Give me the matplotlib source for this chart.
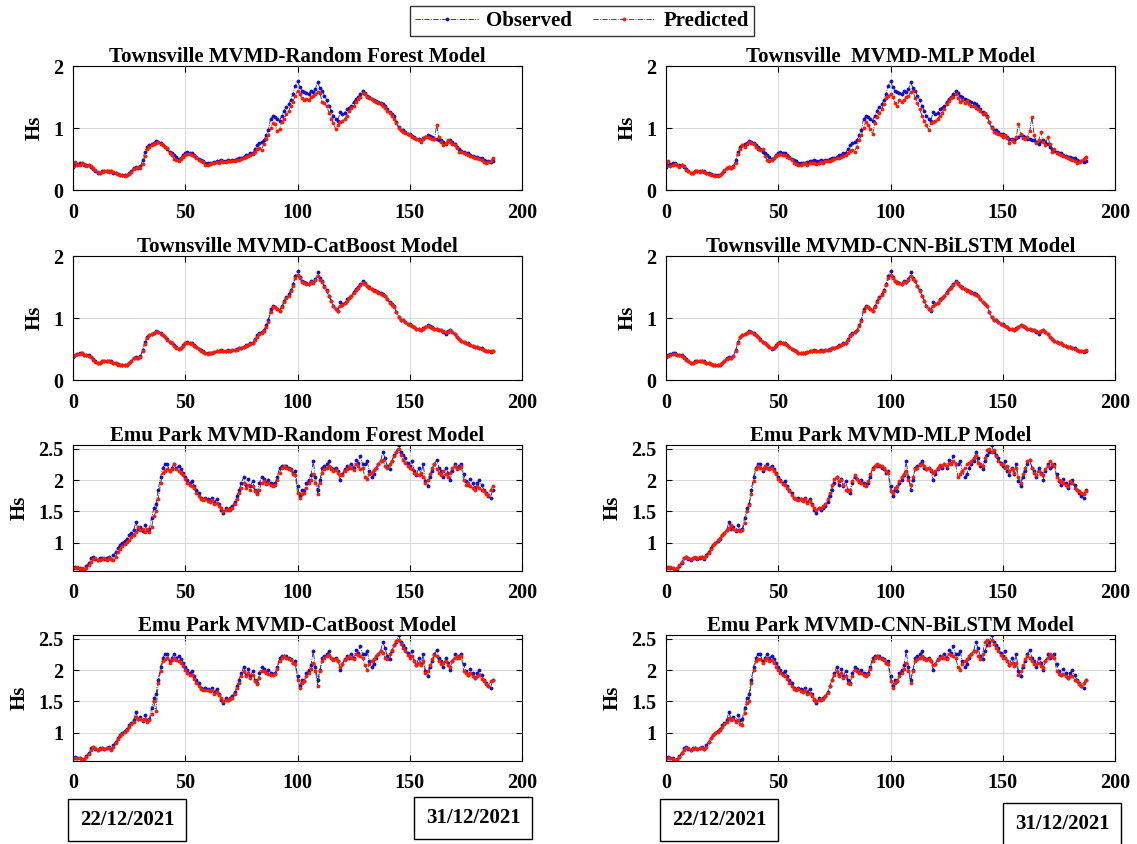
import numpy as np
import matplotlib
matplotlib.use("Agg")
import matplotlib.pyplot as plt
from matplotlib.ticker import FormatStrFormatter

# Significant wave height (Hs), 22/12/2021 - 31/12/2021
tsv_obs = [
    0.37, 0.40, 0.42, 0.44, 0.43, 0.41, 0.40, 0.41, 0.37, 0.34,
    0.30, 0.27, 0.28, 0.30, 0.31, 0.30, 0.31, 0.30, 0.28, 0.27,
    0.26, 0.25, 0.24, 0.24, 0.25, 0.27, 0.31, 0.36, 0.37, 0.36,
    0.38, 0.48, 0.62, 0.70, 0.73, 0.74, 0.76, 0.79, 0.78, 0.76,
    0.72, 0.70, 0.66, 0.62, 0.60, 0.56, 0.53, 0.50, 0.52, 0.56,
    0.60, 0.61, 0.60, 0.59, 0.56, 0.54, 0.50, 0.48, 0.46, 0.44,
    0.43, 0.43, 0.44, 0.45, 0.46, 0.47, 0.48, 0.47, 0.46, 0.48,
    0.47, 0.48, 0.48, 0.50, 0.51, 0.52, 0.54, 0.56, 0.57, 0.59,
    0.60, 0.66, 0.72, 0.76, 0.78, 0.80, 0.88, 0.96, 1.15, 1.20,
    1.18, 1.15, 1.12, 1.20, 1.28, 1.34, 1.38, 1.45, 1.55, 1.68,
    1.76, 1.66, 1.60, 1.58, 1.56, 1.55, 1.60, 1.58, 1.63, 1.74,
    1.64, 1.60, 1.52, 1.45, 1.36, 1.28, 1.20, 1.15, 1.12, 1.26,
    1.22, 1.25, 1.30, 1.33, 1.36, 1.42, 1.47, 1.50, 1.55, 1.60,
    1.56, 1.52, 1.50, 1.47, 1.45, 1.44, 1.42, 1.40, 1.38, 1.36,
    1.30, 1.26, 1.22, 1.20, 1.10, 1.02, 0.96, 0.97, 0.93, 0.91,
    0.90, 0.87, 0.85, 0.83, 0.82, 0.80, 0.84, 0.86, 0.89, 0.87,
    0.85, 0.83, 0.82, 0.81, 0.80, 0.78, 0.75, 0.79, 0.81, 0.78,
    0.74, 0.70, 0.66, 0.63, 0.62, 0.60, 0.59, 0.57, 0.55, 0.54,
    0.53, 0.52, 0.51, 0.49, 0.47, 0.46, 0.45, 0.47,
]

tsv_rf = [
    0.38, 0.45, 0.40, 0.41, 0.43, 0.42, 0.39, 0.40, 0.39, 0.35,
    0.32, 0.29, 0.27, 0.29, 0.30, 0.30, 0.29, 0.30, 0.29, 0.27,
    0.26, 0.25, 0.24, 0.23, 0.24, 0.26, 0.29, 0.34, 0.36, 0.37,
    0.36, 0.42, 0.55, 0.66, 0.70, 0.72, 0.74, 0.76, 0.77, 0.75,
    0.73, 0.70, 0.67, 0.60, 0.56, 0.50, 0.48, 0.47, 0.50, 0.54,
    0.57, 0.58, 0.58, 0.57, 0.55, 0.52, 0.49, 0.47, 0.45, 0.41,
    0.40, 0.42, 0.43, 0.44, 0.45, 0.44, 0.46, 0.45, 0.45, 0.46,
    0.46, 0.47, 0.47, 0.48, 0.49, 0.50, 0.52, 0.54, 0.55, 0.57,
    0.58, 0.62, 0.66, 0.68, 0.65, 0.75, 0.82, 0.88, 1.00, 1.08,
    1.06, 0.95, 0.98, 1.10, 1.15, 1.22, 1.28, 1.35, 1.42, 1.52,
    1.60, 1.55, 1.48, 1.45, 1.47, 1.45, 1.50, 1.52, 1.55, 1.58,
    1.56, 1.42, 1.40, 1.35, 1.25, 1.15, 1.08, 0.98, 1.05, 1.10,
    1.12, 1.15, 1.20, 1.28, 1.32, 1.35, 1.42, 1.46, 1.50, 1.56,
    1.55, 1.50, 1.48, 1.46, 1.44, 1.42, 1.40, 1.38, 1.36, 1.33,
    1.28, 1.24, 1.20, 1.15, 1.08, 1.00, 0.96, 0.94, 0.92, 0.90,
    0.88, 0.86, 0.84, 0.82, 0.80, 0.78, 0.82, 0.85, 0.86, 0.84,
    0.83, 0.82, 1.05, 0.85, 0.78, 0.72, 0.76, 0.80, 0.78, 0.75,
    0.72, 0.68, 0.62, 0.61, 0.60, 0.58, 0.57, 0.55, 0.53, 0.52,
    0.51, 0.50, 0.48, 0.45, 0.44, 0.45, 0.46, 0.52,
]

tsv_cat = [
    0.38, 0.40, 0.42, 0.42, 0.43, 0.41, 0.40, 0.39, 0.37, 0.33,
    0.29, 0.27, 0.28, 0.30, 0.30, 0.30, 0.31, 0.29, 0.28, 0.27,
    0.25, 0.24, 0.24, 0.24, 0.25, 0.27, 0.30, 0.35, 0.36, 0.36,
    0.37, 0.46, 0.58, 0.68, 0.72, 0.74, 0.76, 0.77, 0.77, 0.75,
    0.72, 0.69, 0.65, 0.62, 0.59, 0.55, 0.52, 0.50, 0.52, 0.55,
    0.59, 0.60, 0.59, 0.58, 0.55, 0.53, 0.50, 0.47, 0.45, 0.43,
    0.42, 0.43, 0.44, 0.45, 0.46, 0.46, 0.47, 0.47, 0.46, 0.47,
    0.47, 0.48, 0.48, 0.49, 0.51, 0.52, 0.54, 0.55, 0.57, 0.58,
    0.60, 0.64, 0.70, 0.74, 0.76, 0.79, 0.86, 0.94, 1.10, 1.18,
    1.17, 1.14, 1.12, 1.18, 1.26, 1.32, 1.36, 1.43, 1.52, 1.64,
    1.70, 1.64, 1.58, 1.57, 1.55, 1.55, 1.58, 1.57, 1.61, 1.68,
    1.62, 1.58, 1.50, 1.43, 1.35, 1.27, 1.19, 1.14, 1.12, 1.20,
    1.21, 1.24, 1.28, 1.32, 1.35, 1.40, 1.45, 1.49, 1.53, 1.57,
    1.55, 1.51, 1.49, 1.46, 1.44, 1.43, 1.41, 1.39, 1.37, 1.35,
    1.30, 1.25, 1.21, 1.18, 1.10, 1.02, 0.97, 0.96, 0.93, 0.91,
    0.89, 0.87, 0.85, 0.83, 0.82, 0.81, 0.83, 0.85, 0.87, 0.86,
    0.84, 0.83, 0.82, 0.81, 0.80, 0.79, 0.77, 0.78, 0.80, 0.78,
    0.74, 0.70, 0.66, 0.63, 0.62, 0.60, 0.58, 0.57, 0.55, 0.54,
    0.53, 0.52, 0.50, 0.48, 0.46, 0.46, 0.46, 0.47,
]

tsv_mlp = [
    0.38, 0.46, 0.39, 0.40, 0.42, 0.40, 0.37, 0.41, 0.38, 0.33,
    0.30, 0.28, 0.27, 0.30, 0.31, 0.29, 0.30, 0.29, 0.27, 0.26,
    0.25, 0.24, 0.23, 0.23, 0.25, 0.28, 0.32, 0.36, 0.37, 0.36,
    0.37, 0.44, 0.58, 0.66, 0.72, 0.70, 0.74, 0.78, 0.76, 0.74,
    0.70, 0.66, 0.64, 0.66, 0.55, 0.49, 0.47, 0.49, 0.52, 0.55,
    0.57, 0.58, 0.57, 0.56, 0.54, 0.52, 0.48, 0.44, 0.42, 0.40,
    0.40, 0.42, 0.43, 0.41, 0.44, 0.43, 0.44, 0.42, 0.44, 0.45,
    0.44, 0.46, 0.47, 0.47, 0.48, 0.50, 0.51, 0.52, 0.53, 0.55,
    0.57, 0.60, 0.63, 0.65, 0.62, 0.70, 0.80, 0.88, 1.00, 1.10,
    1.05, 0.98, 0.90, 1.08, 1.18, 1.24, 1.30, 1.38, 1.48, 1.52,
    1.55, 1.50, 1.40, 1.35, 1.45, 1.42, 1.45, 1.50, 1.52, 1.58,
    1.60, 1.48, 1.40, 1.30, 1.20, 1.12, 1.05, 0.97, 1.08, 1.10,
    1.12, 1.15, 1.20, 1.25, 1.30, 1.38, 1.44, 1.48, 1.50, 1.55,
    1.48, 1.42, 1.45, 1.40, 1.43, 1.38, 1.35, 1.36, 1.32, 1.30,
    1.27, 1.22, 1.25, 1.18, 1.10, 1.00, 0.94, 0.92, 0.90, 0.88,
    0.86, 0.88, 0.84, 0.76, 0.80, 0.78, 0.85, 1.06, 0.90, 0.84,
    0.82, 0.86, 0.95, 1.18, 0.88, 0.76, 0.80, 0.94, 0.78, 0.72,
    0.86, 0.75, 0.62, 0.66, 0.60, 0.58, 0.56, 0.55, 0.53, 0.52,
    0.50, 0.49, 0.46, 0.44, 0.45, 0.47, 0.50, 0.54,
]

tsv_cnn = [
    0.37, 0.39, 0.41, 0.42, 0.42, 0.41, 0.40, 0.39, 0.36, 0.33,
    0.30, 0.28, 0.28, 0.29, 0.30, 0.30, 0.30, 0.29, 0.28, 0.27,
    0.26, 0.25, 0.24, 0.24, 0.25, 0.27, 0.30, 0.34, 0.36, 0.36,
    0.38, 0.47, 0.60, 0.69, 0.72, 0.74, 0.76, 0.78, 0.77, 0.75,
    0.72, 0.69, 0.65, 0.62, 0.59, 0.56, 0.53, 0.51, 0.52, 0.55,
    0.59, 0.60, 0.60, 0.58, 0.56, 0.53, 0.50, 0.48, 0.46, 0.44,
    0.43, 0.43, 0.44, 0.45, 0.46, 0.47, 0.47, 0.47, 0.46, 0.47,
    0.47, 0.48, 0.48, 0.49, 0.51, 0.52, 0.54, 0.55, 0.57, 0.58,
    0.60, 0.65, 0.71, 0.75, 0.77, 0.80, 0.87, 0.95, 1.12, 1.18,
    1.17, 1.15, 1.12, 1.18, 1.26, 1.32, 1.37, 1.44, 1.53, 1.65,
    1.70, 1.65, 1.59, 1.57, 1.56, 1.55, 1.58, 1.58, 1.62, 1.68,
    1.63, 1.59, 1.51, 1.44, 1.36, 1.27, 1.19, 1.14, 1.13, 1.20,
    1.22, 1.25, 1.29, 1.33, 1.36, 1.41, 1.46, 1.49, 1.54, 1.58,
    1.55, 1.51, 1.49, 1.46, 1.44, 1.43, 1.41, 1.39, 1.37, 1.35,
    1.30, 1.26, 1.22, 1.19, 1.10, 1.02, 0.97, 0.96, 0.93, 0.91,
    0.89, 0.87, 0.85, 0.83, 0.82, 0.81, 0.83, 0.86, 0.88, 0.87,
    0.85, 0.83, 0.82, 0.81, 0.80, 0.79, 0.77, 0.79, 0.80, 0.78,
    0.74, 0.70, 0.66, 0.63, 0.62, 0.60, 0.59, 0.57, 0.55, 0.54,
    0.53, 0.52, 0.50, 0.48, 0.47, 0.46, 0.46, 0.48,
]

emu_obs = [
    0.60, 0.61, 0.59, 0.60, 0.55, 0.58, 0.63, 0.68, 0.75, 0.78,
    0.74, 0.73, 0.75, 0.76, 0.74, 0.76, 0.77, 0.74, 0.80, 0.86,
    0.92, 0.97, 1.00, 1.03, 1.06, 1.12, 1.15, 1.20, 1.33, 1.22,
    1.25, 1.19, 1.28, 1.20, 1.22, 1.40, 1.55, 1.62, 1.85, 2.05,
    2.20, 2.25, 2.25, 2.15, 2.20, 2.25, 2.20, 2.22, 2.18, 2.12,
    2.05, 2.00, 1.95, 1.98, 1.90, 1.85, 1.80, 1.72, 1.70, 1.72,
    1.70, 1.68, 1.72, 1.65, 1.70, 1.62, 1.52, 1.48, 1.55, 1.52,
    1.55, 1.58, 1.65, 1.75, 1.85, 1.95, 2.05, 1.92, 2.02, 1.90,
    1.98, 1.85, 1.80, 1.95, 2.05, 2.02, 1.97, 2.00, 1.96, 1.93,
    1.95, 2.05, 2.20, 2.22, 2.23, 2.22, 2.20, 2.18, 2.12, 2.15,
    1.90, 1.75, 1.85, 1.82, 1.95, 2.00, 2.08, 2.30, 2.05, 1.85,
    2.00, 2.20, 2.22, 2.25, 2.30, 2.20, 2.18, 2.20, 2.15, 2.00,
    2.10, 2.18, 2.22, 2.20, 2.25, 2.20, 2.32, 2.28, 2.38, 2.25,
    2.25, 2.30, 2.15, 2.05, 2.10, 2.20, 2.25, 2.30, 2.45, 2.35,
    2.22, 2.18, 2.30, 2.40, 2.45, 2.56, 2.45, 2.40, 2.35, 2.28,
    2.22, 2.30, 2.15, 2.08, 2.20, 2.10, 2.25, 1.98, 1.90, 2.05,
    2.15, 2.25, 2.32, 2.20, 2.15, 2.05, 2.20, 2.12, 2.00, 2.15,
    2.25, 2.20, 2.22, 2.25, 2.10, 1.98, 1.92, 2.02, 1.95, 1.88,
    1.95, 2.00, 1.92, 1.85, 1.80, 1.75, 1.72, 1.85,
]

emu_rf = [
    0.60, 0.59, 0.61, 0.58, 0.60, 0.56, 0.60, 0.64, 0.70, 0.74,
    0.75, 0.73, 0.72, 0.74, 0.75, 0.73, 0.75, 0.74, 0.73, 0.78,
    0.85, 0.90, 0.95, 0.98, 1.02, 1.05, 1.10, 1.13, 1.18, 1.25,
    1.20, 1.22, 1.17, 1.22, 1.18, 1.25, 1.42, 1.50, 1.70, 1.95,
    2.12, 2.15, 2.18, 2.14, 2.18, 2.26, 2.18, 2.15, 2.12, 2.08,
    2.02, 1.95, 1.92, 1.90, 1.88, 1.80, 1.75, 1.70, 1.68, 1.70,
    1.66, 1.65, 1.68, 1.62, 1.64, 1.58, 1.55, 1.50, 1.52, 1.54,
    1.52, 1.56, 1.62, 1.70, 1.80, 1.88, 1.95, 1.88, 1.92, 1.85,
    1.90, 1.82, 1.78, 1.85, 1.95, 1.98, 1.94, 1.95, 1.92, 1.90,
    1.92, 2.00, 2.12, 2.20, 2.22, 2.20, 2.18, 2.16, 2.10, 2.08,
    1.80, 1.72, 1.78, 1.80, 1.88, 1.95, 2.00, 2.10, 1.95, 1.78,
    1.95, 2.12, 2.18, 2.20, 2.22, 2.18, 2.15, 2.16, 2.12, 2.08,
    2.08, 2.15, 2.18, 2.22, 2.20, 2.16, 2.25, 2.22, 2.18, 2.20,
    2.05, 2.02, 2.10, 2.12, 2.16, 2.20, 2.25, 2.30, 2.32, 2.22,
    2.20, 2.25, 2.30, 2.38, 2.45, 2.50, 2.40, 2.32, 2.28, 2.22,
    2.20, 2.18, 2.12, 2.10, 2.08, 2.12, 2.05, 1.95, 2.00, 2.10,
    2.20, 2.25, 2.18, 2.12, 2.08, 2.15, 2.10, 2.05, 2.12, 2.20,
    2.22, 2.18, 2.20, 2.22, 2.00, 1.92, 1.95, 1.90, 1.88, 1.85,
    1.90, 1.88, 1.85, 1.82, 1.78, 1.76, 1.85, 1.90,
]

emu_cat = [
    0.60, 0.60, 0.60, 0.59, 0.58, 0.57, 0.61, 0.66, 0.72, 0.77,
    0.75, 0.73, 0.74, 0.75, 0.74, 0.75, 0.76, 0.73, 0.77, 0.84,
    0.90, 0.95, 0.98, 1.02, 1.05, 1.10, 1.14, 1.18, 1.25, 1.22,
    1.22, 1.20, 1.22, 1.18, 1.20, 1.30, 1.50, 1.35, 1.80, 1.98,
    2.15, 2.18, 2.20, 2.12, 2.16, 2.20, 2.16, 2.15, 2.12, 2.06,
    2.00, 1.96, 1.92, 1.92, 1.86, 1.80, 1.75, 1.70, 1.68, 1.68,
    1.68, 1.66, 1.68, 1.62, 1.65, 1.60, 1.55, 1.50, 1.52, 1.53,
    1.54, 1.56, 1.62, 1.72, 1.80, 1.90, 1.98, 1.90, 1.95, 1.88,
    1.92, 1.82, 1.78, 1.88, 1.98, 1.98, 1.95, 1.94, 1.92, 1.92,
    1.94, 2.02, 2.15, 2.20, 2.22, 2.20, 2.18, 2.16, 2.12, 2.10,
    1.85, 1.72, 1.80, 1.82, 1.90, 1.96, 2.02, 2.12, 1.98, 1.75,
    1.98, 2.15, 2.20, 2.22, 2.24, 2.20, 2.16, 2.18, 2.14, 2.05,
    2.10, 2.16, 2.20, 2.22, 2.20, 2.18, 2.26, 2.24, 2.22, 2.20,
    2.08, 2.00, 2.10, 2.14, 2.18, 2.22, 2.26, 2.30, 2.28, 2.20,
    2.18, 2.25, 2.32, 2.40, 2.46, 2.48, 2.42, 2.35, 2.30, 2.24,
    2.20, 2.22, 2.14, 2.08, 2.12, 2.08, 2.15, 1.96, 1.98, 2.08,
    2.18, 2.24, 2.22, 2.14, 2.10, 2.12, 2.15, 2.08, 2.05, 2.15,
    2.20, 2.22, 2.20, 2.22, 1.98, 1.95, 1.92, 1.95, 1.90, 1.88,
    1.90, 1.92, 1.86, 1.82, 1.78, 1.75, 1.82, 1.84,
]

emu_mlp = [
    0.61, 0.60, 0.62, 0.59, 0.57, 0.60, 0.64, 0.70, 0.76, 0.78,
    0.76, 0.74, 0.76, 0.77, 0.75, 0.77, 0.78, 0.76, 0.79, 0.84,
    0.90, 0.96, 1.00, 1.04, 1.08, 1.12, 1.16, 1.20, 1.24, 1.28,
    1.22, 1.20, 1.20, 1.19, 1.20, 1.32, 1.50, 1.60, 1.78, 1.98,
    2.18, 2.22, 2.20, 2.18, 2.22, 2.20, 2.18, 2.20, 2.15, 2.10,
    2.02, 1.98, 1.94, 1.92, 1.88, 1.82, 1.76, 1.72, 1.70, 1.68,
    1.70, 1.66, 1.70, 1.64, 1.66, 1.60, 1.56, 1.52, 1.55, 1.56,
    1.58, 1.62, 1.70, 1.80, 1.92, 2.02, 2.05, 1.98, 2.00, 1.92,
    1.85, 1.82, 1.85, 1.98, 2.08, 2.02, 1.98, 1.96, 1.92, 1.90,
    1.98, 2.10, 2.18, 2.22, 2.25, 2.24, 2.22, 2.20, 2.15, 2.12,
    1.82, 1.80, 1.88, 1.90, 1.98, 2.05, 2.10, 2.15, 2.00, 1.92,
    2.05, 2.18, 2.20, 2.24, 2.25, 2.22, 2.18, 2.20, 2.16, 2.12,
    2.15, 2.20, 2.24, 2.22, 2.26, 2.22, 2.28, 2.26, 2.30, 2.25,
    2.05, 2.10, 2.15, 2.20, 2.25, 2.28, 2.30, 2.35, 2.40, 2.28,
    2.25, 2.22, 2.35, 2.48, 2.50, 2.45, 2.48, 2.38, 2.30, 2.26,
    2.25, 2.20, 2.22, 2.15, 2.18, 2.12, 2.20, 2.05, 1.95, 2.10,
    2.20, 2.30, 2.32, 2.20, 2.12, 2.08, 2.15, 2.10, 2.08, 2.18,
    2.22, 2.30, 2.25, 2.22, 2.05, 2.00, 1.98, 1.95, 1.92, 1.90,
    1.98, 1.95, 1.88, 1.85, 1.82, 1.80, 1.78, 1.82,
]

emu_cnn = [
    0.60, 0.59, 0.60, 0.58, 0.57, 0.57, 0.62, 0.67, 0.73, 0.76,
    0.75, 0.73, 0.74, 0.75, 0.74, 0.75, 0.76, 0.74, 0.78, 0.85,
    0.91, 0.96, 0.99, 1.02, 1.05, 1.10, 1.14, 1.18, 1.24, 1.20,
    1.22, 1.18, 1.20, 1.14, 1.12, 1.32, 1.48, 1.50, 1.80, 2.00,
    2.15, 2.18, 2.18, 2.12, 2.16, 2.20, 2.15, 2.16, 2.12, 2.05,
    2.00, 1.95, 1.92, 1.90, 1.86, 1.80, 1.74, 1.70, 1.68, 1.70,
    1.66, 1.65, 1.68, 1.62, 1.64, 1.58, 1.54, 1.50, 1.52, 1.54,
    1.54, 1.58, 1.64, 1.74, 1.84, 1.92, 1.98, 1.90, 1.96, 1.88,
    1.90, 1.80, 1.78, 1.90, 2.00, 1.98, 1.95, 1.95, 1.92, 1.90,
    1.94, 2.02, 2.15, 2.20, 2.22, 2.20, 2.18, 2.16, 2.12, 2.10,
    1.82, 1.72, 1.80, 1.82, 1.90, 1.96, 2.02, 2.12, 1.98, 1.80,
    1.98, 2.14, 2.18, 2.20, 2.22, 2.18, 2.16, 2.18, 2.14, 2.08,
    2.10, 2.16, 2.20, 2.22, 2.20, 2.18, 2.26, 2.24, 2.22, 2.20,
    2.05, 2.00, 2.10, 2.14, 2.18, 2.22, 2.26, 2.30, 2.30, 2.22,
    2.18, 2.25, 2.45, 2.48, 2.40, 2.48, 2.42, 2.35, 2.30, 2.24,
    2.20, 2.20, 2.14, 2.08, 2.12, 2.06, 2.12, 1.92, 1.98, 2.08,
    2.18, 2.22, 2.20, 2.14, 2.10, 2.10, 2.12, 2.06, 2.04, 2.14,
    2.20, 2.25, 2.22, 2.20, 1.98, 1.94, 1.92, 1.94, 1.90, 1.88,
    1.90, 1.90, 1.85, 1.82, 1.78, 1.74, 1.80, 1.84,
]

# panel layout: (title, observed, predicted) row by row, left then right
panels = [
    ("Townsville MVMD-Random Forest Model", tsv_obs, tsv_rf),
    ("Townsville  MVMD-MLP Model", tsv_obs, tsv_mlp),
    ("Townsville MVMD-CatBoost Model", tsv_obs, tsv_cat),
    ("Townsville MVMD-CNN-BiLSTM Model", tsv_obs, tsv_cnn),
    ("Emu Park MVMD-Random Forest Model", emu_obs, emu_rf),
    ("Emu Park MVMD-MLP Model", emu_obs, emu_mlp),
    ("Emu Park MVMD-CatBoost Model", emu_obs, emu_cat),
    ("Emu Park MVMD-CNN-BiLSTM Model", emu_obs, emu_cnn),
]

plt.rcParams["font.family"] = ["Liberation Serif", "DejaVu Serif"]
plt.rcParams["font.weight"] = "bold"

fig = plt.figure(figsize=(11.37, 8.44), dpi=100)

W, H = 1137.0, 844.0
col_left = [73, 666]
col_width = 449
row_top = [66, 256, 445, 635]
row_height = [124, 124, 126, 126]

lines = None
for i, (title, obs, pred) in enumerate(panels):
    r, c = divmod(i, 2)
    ax = fig.add_axes([col_left[c] / W, 1 - (row_top[r] + row_height[r]) / H,
                       col_width / W, row_height[r] / H])
    x = np.arange(len(obs))
    l1, = ax.plot(x, obs, color="#1010d0", ls="-.", lw=0.6, marker=".",
                  ms=3.5, label="Observed")
    l2, = ax.plot(x, pred, color="#303030", ls="-.", lw=0.6, marker=".",
                  ms=3.5, mfc="#ff1a00", mec="#ff1a00", label="Predicted")
    lines = [l1, l2]

    ax.set_xlim(0, 200)
    ax.set_xticks([0, 50, 100, 150, 200])
    if r < 2:
        ax.set_ylim(0, 2)
        ax.set_yticks([0, 1, 2])
    else:
        lo = min(min(obs), min(pred))
        hi = max(max(obs), max(pred))
        ax.set_ylim(lo, hi)
        ax.set_yticks([1, 1.5, 2, 2.5])
    ax.yaxis.set_major_formatter(FormatStrFormatter("%g"))

    ax.grid(True, color="#d8d8d8", lw=0.7)
    ax.set_axisbelow(True)
    ax.tick_params(direction="in", top=True, right=True, length=4,
                   labelsize=14.5)
    ax.tick_params(axis="x", pad=9)
    ax.tick_params(axis="y", pad=7)
    for s in ax.spines.values():
        s.set_linewidth(0.8)
    ax.set_title(title, fontsize=15, fontweight="bold", pad=3)
    ax.set_ylabel("Hs", fontsize=15, fontweight="bold", labelpad=6)

leg = fig.legend(lines, ["Observed", "Predicted"], loc="upper center",
                 bbox_to_anchor=(0.512, 0.993), borderaxespad=0, ncol=2,
                 fontsize=15, frameon=True, fancybox=False,
                 edgecolor="black", handlelength=3.0, borderpad=0.25,
                 columnspacing=1.0, handletextpad=0.4)
leg.get_frame().set_linewidth(1.0)

# date markers under the bottom row
box = dict(boxstyle="square,pad=0.55", fc="white", ec="black", lw=1.0)
for px, py, txt in [(127, 820, "22/12/2021"), (473, 818, "31/12/2021"),
                    (719, 820, "22/12/2021"), (1062, 824, "31/12/2021")]:
    fig.text(px / W, 1 - py / H, txt, ha="center", va="center",
             fontsize=15, fontweight="bold", bbox=box)

fig.savefig("out.png", dpi=100)
